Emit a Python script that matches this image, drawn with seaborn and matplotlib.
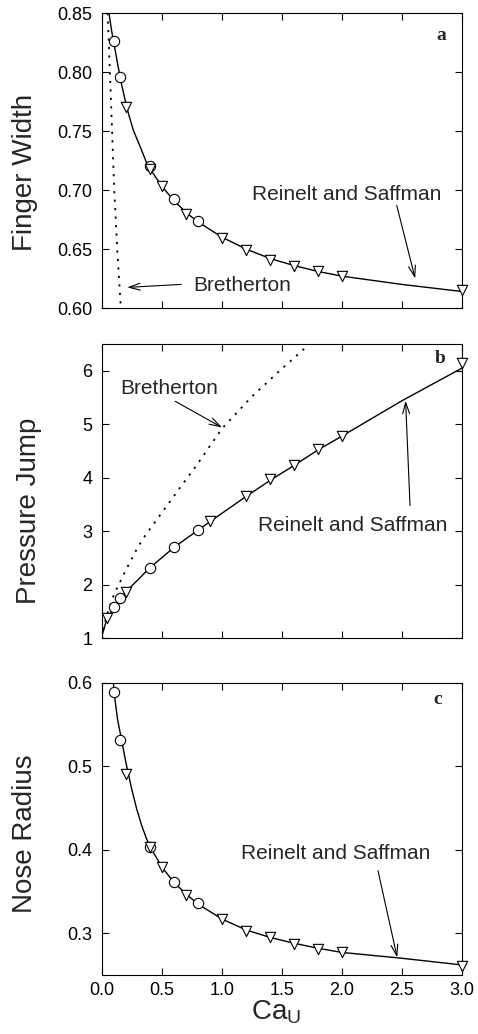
import numpy as np
import pandas as pd
import seaborn as sns
import matplotlib.pyplot as plt
from matplotlib.ticker import FormatStrFormatter

# data
ca_circles = [0.1, 0.15, 0.4, 0.6, 0.8]
ca_tri = [0.2, 0.4, 0.5, 0.7, 1.0, 1.2, 1.4, 1.6, 1.8, 2.0, 3.0]
ca_tri_b = [0.04, 0.2, 0.9, 1.2, 1.4, 1.6, 1.8, 2.0, 3.0]

width_circles = [0.826, 0.796, 0.720, 0.692, 0.674]
width_tri = [0.770, 0.718, 0.703, 0.680, 0.659, 0.649, 0.641, 0.636, 0.631, 0.627, 0.615]
pressure_circles = [1.59, 1.745, 2.32, 2.70, 3.02]
pressure_tri = [1.38, 1.87, 3.20, 3.66, 3.97, 4.23, 4.54, 4.79, 6.15]
radius_circles = [0.589, 0.532, 0.403, 0.362, 0.336]
radius_tri = [0.491, 0.403, 0.379, 0.346, 0.317, 0.303, 0.295, 0.287, 0.281, 0.277, 0.261]

# Reinelt and Saffman curves
rs_ca_a = [0.058, 0.08, 0.1, 0.13, 0.164, 0.2, 0.22, 0.26, 0.317, 0.372, 0.4, 0.5, 0.6, 0.7, 0.8,
           1.0, 1.2, 1.4, 1.6, 1.8, 2.0, 2.5, 3.0]
rs_width = [0.85, 0.835, 0.824, 0.807, 0.789, 0.773, 0.765, 0.751, 0.737, 0.723, 0.718, 0.703, 0.691,
            0.681, 0.673, 0.660, 0.650, 0.642, 0.636, 0.631, 0.627, 0.620, 0.614]
rs_ca_b = [0.0, 0.04, 0.1, 0.15, 0.2, 0.4, 0.6, 0.8, 0.9, 1.2, 1.4, 1.6, 1.8, 2.0, 2.5, 3.0]
rs_pressure = [1.05, 1.36, 1.58, 1.74, 1.87, 2.32, 2.70, 3.02, 3.18, 3.65, 3.95, 4.23, 4.52, 4.78, 5.44, 6.05]
rs_ca_c = [0.095, 0.1, 0.13, 0.164, 0.2, 0.22, 0.247, 0.289, 0.331, 0.372, 0.4, 0.5, 0.6, 0.7, 0.8,
           1.0, 1.2, 1.4, 1.6, 1.8, 2.0, 2.5, 3.0]
rs_radius = [0.60, 0.589, 0.556, 0.531, 0.504, 0.491, 0.473, 0.449, 0.429, 0.413, 0.404, 0.379, 0.361,
             0.347, 0.335, 0.317, 0.304, 0.295, 0.288, 0.282, 0.277, 0.270, 0.262]

# Bretherton curves
br_ca_a = [0.047, 0.066, 0.084, 0.102, 0.127, 0.157]
br_width = [0.85, 0.80, 0.75, 0.70, 0.65, 0.60]
br_ca_b = [0.0, 0.02, 0.05, 0.1, 0.2, 0.3, 0.36, 0.6, 0.79, 1.0, 1.25, 1.49, 1.73]
br_pressure = [1.0, 1.27, 1.50, 1.82, 2.28, 2.71, 2.92, 3.66, 4.24, 4.92, 5.52, 6.02, 6.5]

x_ticks = [0.0, 0.5, 1.0, 1.5, 2.0, 2.5, 3.0]

sns.set_style("ticks")
plt.rcParams['font.family'] = ['Liberation Sans', 'DejaVu Sans']
plt.rcParams['mathtext.fontset'] = 'custom'
plt.rcParams['mathtext.rm'] = 'Liberation Sans'

fig = plt.figure(figsize=(4.78, 10.34), dpi=100)
ax_a = fig.add_axes([0.2134, 0.7021, 0.7531, 0.2853])
ax_b = fig.add_axes([0.2134, 0.3827, 0.7531, 0.2846])
ax_c = fig.add_axes([0.2134, 0.0571, 0.7531, 0.2824])

mk = dict(s=55, facecolor='white', edgecolor='black', linewidth=0.8, clip_on=False, zorder=3)
arrow = dict(arrowstyle='->,head_length=0.8,head_width=0.25', lw=0.8, color='black', shrinkA=0, shrinkB=0)


def draw(ax, rs_x, rs_y, cy, tx, ty):
    sns.lineplot(x=rs_x, y=rs_y, ax=ax, color='black', lw=1.0, sort=False, estimator=None)
    sns.scatterplot(x=ca_circles, y=cy, ax=ax, marker='o', **mk)
    sns.scatterplot(x=tx, y=ty, ax=ax, marker='v', **mk)
    ax.set_xlim(0, 3)
    ax.set_xticks(x_ticks)
    ax.tick_params(direction='in', length=5, width=0.8, top=True, right=True,
                   labelsize=13, colors='black')
    ax.tick_params(axis='y', pad=7)
    ax.tick_params(axis='x', pad=5)
    for s in ax.spines.values():
        s.set_linewidth(0.8)
        s.set_color('black')


# panel a
draw(ax_a, rs_ca_a, rs_width, width_circles, ca_tri, width_tri)
sns.lineplot(x=br_ca_a, y=br_width, ax=ax_a, color='black', lw=1.3, linestyle=(0, (1.2, 3.5)),
             sort=False, estimator=None)
ax_a.set_ylim(0.60, 0.85)
ax_a.set_yticks([0.60, 0.65, 0.70, 0.75, 0.80, 0.85])
ax_a.yaxis.set_major_formatter(FormatStrFormatter('%.2f'))
ax_a.set_xticklabels([])
ax_a.set_ylabel('Finger Width', fontsize=20)
ax_a.yaxis.set_label_coords(-0.178, 0.46)
ax_a.text(0.76, 0.619, 'Bretherton', fontsize=15, va='center')
ax_a.annotate('', xy=(0.21, 0.6175), xytext=(0.66, 0.620), arrowprops=arrow)
ax_a.text(1.25, 0.696, 'Reinelt and Saffman', fontsize=15, va='center')
ax_a.annotate('', xy=(2.61, 0.625), xytext=(2.456, 0.687), arrowprops=arrow)
ax_a.text(2.79, 0.831, 'a', fontsize=14, fontweight='bold', family='Liberation Serif', va='center')

# panel b
draw(ax_b, rs_ca_b, rs_pressure, pressure_circles, ca_tri_b, pressure_tri)
sns.lineplot(x=br_ca_b, y=br_pressure, ax=ax_b, color='black', lw=1.3, linestyle=(0, (1.2, 3.5)),
             sort=False, estimator=None)
ax_b.set_ylim(1, 6.5)
ax_b.set_yticks([1, 2, 3, 4, 5, 6])
ax_b.set_xticklabels([])
ax_b.set_ylabel('Pressure Jump', fontsize=20)
ax_b.yaxis.set_label_coords(-0.167, 0.433)
ax_b.text(0.15, 5.66, 'Bretherton', fontsize=15, va='center')
ax_b.annotate('', xy=(1.0, 4.94), xytext=(0.61, 5.43), arrowprops=arrow)
ax_b.text(1.30, 3.11, 'Reinelt and Saffman', fontsize=15, va='center')
ax_b.annotate('', xy=(2.53, 5.44), xytext=(2.567, 3.48), arrowprops=arrow)
ax_b.text(2.775, 6.22, 'b', fontsize=14, fontweight='bold', family='Liberation Serif', va='center')

# panel c
draw(ax_c, rs_ca_c, rs_radius, radius_circles, ca_tri, radius_tri)
ax_c.set_ylim(0.25, 0.6)
ax_c.set_yticks([0.3, 0.4, 0.5, 0.6])
ax_c.yaxis.set_major_formatter(FormatStrFormatter('%.1f'))
ax_c.xaxis.set_major_formatter(FormatStrFormatter('%.1f'))
ax_c.set_ylabel('Nose Radius', fontsize=20)
ax_c.yaxis.set_label_coords(-0.178, 0.485)
ax_c.set_xlabel(r'Ca$_{\mathrm{U}}$', fontsize=20)
ax_c.xaxis.set_label_coords(0.483, -0.08)
ax_c.text(1.16, 0.395, 'Reinelt and Saffman', fontsize=15, va='center')
ax_c.annotate('', xy=(2.46, 0.271), xytext=(2.30, 0.375), arrowprops=arrow)
ax_c.text(2.76, 0.58, 'c', fontsize=14, fontweight='bold', family='Liberation Serif', va='center')

fig.savefig('out.png', dpi=100)
